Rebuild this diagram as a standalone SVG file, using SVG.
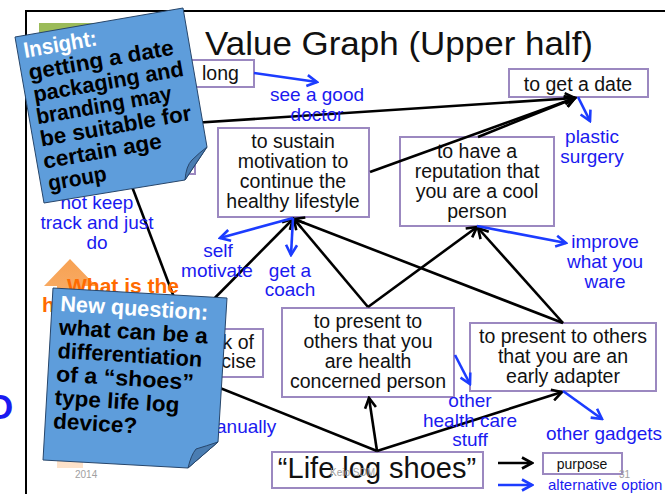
<svg xmlns="http://www.w3.org/2000/svg" width="665" height="494" viewBox="0 0 665 494">
  <defs>
    <style>
      .t { font-family: "Liberation Sans", Arial, sans-serif; }
      .box { fill: #ffffff; stroke: #9b88c0; stroke-width: 2; }
      .bt { font-family: "Liberation Sans", Arial, sans-serif; font-size: 19.5px; fill: #111; text-anchor: middle; }
      .blue { font-family: "Liberation Sans", Arial, sans-serif; font-size: 19px; fill: #1a1af0; text-anchor: middle; }
      .edge { stroke: #000; stroke-width: 2.6; fill: none; marker-end: url(#arrK); }
      .alt { stroke: #1c3cff; stroke-width: 2.6; fill: none; marker-end: url(#arrB); }
      .note { fill: #5e9ddb; stroke: #27466b; stroke-width: 1; }
      .flap { fill: #4a7db2; stroke: #27466b; stroke-width: 1; }
      .nt { font-family: "Liberation Sans", Arial, sans-serif; font-size: 22px; font-weight: bold; fill: #000; }
      .nh { fill: #ffffff; }
      .foot { font-family: "Liberation Sans", Arial, sans-serif; font-size: 10px; fill: #a0a0a0; }
    </style>
    <marker id="arrK" viewBox="0 0 14 14" refX="12" refY="7" markerWidth="14" markerHeight="14" markerUnits="userSpaceOnUse" orient="auto">
      <path d="M2,1.5 L12,7 L2,12.5" fill="none" stroke="#000" stroke-width="2.6"/>
    </marker>
    <marker id="arrB" viewBox="0 0 14 14" refX="12" refY="7" markerWidth="14" markerHeight="14" markerUnits="userSpaceOnUse" orient="auto">
      <path d="M2,1.5 L12,7 L2,12.5" fill="none" stroke="#1c3cff" stroke-width="2.6"/>
    </marker>
    <linearGradient id="orangeFade" x1="0" y1="0" x2="0" y2="1">
      <stop offset="0" stop-color="#f7a152"/>
      <stop offset="1" stop-color="#fde3cc"/>
    </linearGradient>
  </defs>

  <rect width="665" height="494" fill="#ffffff"/>

  <!-- slide frame -->
  <rect x="26" y="11" width="700" height="600" fill="#ffffff" stroke="#000" stroke-width="2"/>

  <!-- fragment of a large blue letter outside the frame -->
  <text class="t" x="-14" y="419" font-size="35" font-weight="bold" fill="#1a1af0">O</text>

  <!-- green header block -->
  <rect x="39" y="23" width="110" height="60" fill="#9bbb59"/>

  <text class="t" x="205" y="55" font-size="34" fill="#111" textLength="388" lengthAdjust="spacingAndGlyphs">Value Graph (Upper half)</text>

  <!-- nodes -->
  <g id="node-long">
    <rect class="box" x="150" y="60" width="104" height="27"/>
    <text class="t" x="202" y="80" font-size="19.5" fill="#111">long</text>
  </g>
  <g id="node-hidden">
    <rect class="box" x="110" y="130" width="85" height="44"/>
  </g>
  <g id="node-date">
    <rect class="box" x="509" y="69" width="139" height="28"/>
    <text class="bt" x="578" y="91">to get a date</text>
  </g>
  <g id="node-sustain">
    <rect class="box" x="218" y="128" width="151" height="89"/>
    <text class="bt" x="293" y="148">to sustain</text>
    <text class="bt" x="293" y="168">motivation to</text>
    <text class="bt" x="293" y="188">continue the</text>
    <text class="bt" x="293" y="208">healthy lifestyle</text>
  </g>
  <g id="node-reputation">
    <rect class="box" x="400" y="137" width="154" height="89"/>
    <text class="bt" x="477" y="158">to have a</text>
    <text class="bt" x="477" y="178">reputation that</text>
    <text class="bt" x="477" y="198">you are a cool</text>
    <text class="bt" x="477" y="218">person</text>
  </g>
  <g id="node-health">
    <rect class="box" x="282" y="308" width="172" height="89"/>
    <text class="bt" x="368" y="328">to present to</text>
    <text class="bt" x="368" y="348">others that you</text>
    <text class="bt" x="368" y="368">are health</text>
    <text class="bt" x="368" y="388">concerned person</text>
  </g>
  <g id="node-adapter">
    <rect class="box" x="470" y="323" width="186" height="68"/>
    <text class="bt" x="563" y="343">to present to others</text>
    <text class="bt" x="563" y="363">that you are an</text>
    <text class="bt" x="563" y="383">early adapter</text>
  </g>
  <g id="node-exercise">
    <rect class="box" x="180" y="329" width="83" height="48"/>
    <text class="t" x="254" y="349" font-size="19.5" fill="#111" text-anchor="end">k of</text>
    <text class="t" x="256" y="368" font-size="19.5" fill="#111" text-anchor="end">rcise</text>
  </g>
  <g id="node-shoes">
    <rect class="box" x="272" y="452" width="211" height="36"/>
    <text class="t" x="377" y="478" font-size="29" fill="#111" text-anchor="middle">“Life log shoes”</text>
  </g>

  <!-- connectors -->
  <g id="connectors">
    <line class="edge" x1="185" y1="123.5" x2="575" y2="98"/>
    <line class="edge" x1="370" y1="172" x2="575" y2="98"/>
    <line class="edge" x1="478" y1="137" x2="575" y2="98" stroke-width="3.6"/>
    <line class="edge" x1="368" y1="307" x2="294" y2="219"/>
    <line class="edge" x1="368" y1="307" x2="477" y2="227"/>
    <line class="edge" x1="563" y1="323" x2="294" y2="219"/>
    <line class="edge" x1="563" y1="323" x2="478" y2="228"/>
    <line class="edge" x1="190" y1="323" x2="293" y2="219"/>
    <line class="edge" x1="186" y1="329" x2="128" y2="176"/>
    <line class="edge" x1="377" y1="451" x2="369" y2="398"/>
    <line class="edge" x1="377" y1="451" x2="562" y2="392"/>
    <line class="edge" x1="377" y1="451" x2="205" y2="382"/>

    <line class="alt" x1="254" y1="73" x2="317" y2="82"/>
    <line class="alt" x1="578" y1="97" x2="590" y2="121"/>
    <line class="alt" x1="293" y1="218" x2="220" y2="238"/>
    <line class="alt" x1="293" y1="218" x2="291" y2="255"/>
    <line class="alt" x1="477" y1="226" x2="566" y2="243"/>
    <line class="alt" x1="455" y1="355" x2="470" y2="384"/>
    <line class="alt" x1="563" y1="391" x2="602" y2="419"/>

    <!-- legend arrows -->
    <line class="edge" x1="498" y1="463" x2="532" y2="463"/>
    <line class="alt" x1="498" y1="485" x2="532" y2="485"/>
  </g>

  <!-- alternative options -->
  <text class="blue" x="317" y="101">see a good</text>
  <text class="blue" x="317" y="121">doctor</text>
  <text class="blue" x="592" y="143">plastic</text>
  <text class="blue" x="592" y="163">surgery</text>
  <text class="blue" x="97" y="209">not keep</text>
  <text class="blue" x="97" y="229">track and just</text>
  <text class="blue" x="97" y="249">do</text>
  <text class="blue" x="218" y="257">self</text>
  <text class="blue" x="217" y="277">motivate</text>
  <text class="blue" x="290" y="277">get a</text>
  <text class="blue" x="290" y="296">coach</text>
  <text class="blue" x="605" y="248">improve</text>
  <text class="blue" x="605" y="268">what you</text>
  <text class="blue" x="605" y="288">ware</text>
  <text class="blue" x="470" y="407">other</text>
  <text class="blue" x="470" y="427">health care</text>
  <text class="blue" x="470" y="446">stuff</text>
  <text class="blue" x="604" y="440">other gadgets</text>
  <text class="blue" x="216" y="433" style="text-anchor:start">anually</text>

  <!-- legend -->
  <g id="legend">
    <rect class="box" x="543" y="453" width="79" height="21"/>
    <text class="t" x="582" y="469" font-size="14" fill="#111" text-anchor="middle">purpose</text>
    <text class="t" x="548" y="490" font-size="15" fill="#1a1af0">alternative option</text>
  </g>

  <!-- footer -->
  <text class="foot" x="75" y="478">2014</text>
  <text class="foot" x="330" y="476">Keio SDM</text>
  <text class="foot" x="619" y="478">31</text>

  <!-- orange up arrow with question -->
  <path d="M70,259 L96,286 L83,286 L83,468 L57,468 L57,286 L44,286 Z" fill="url(#orangeFade)"/>
  <text class="t" x="67" y="293" font-size="21" font-weight="bold" fill="#ff6a00">What is the</text>
  <text class="t" x="42" y="312" font-size="21" font-weight="bold" fill="#ff6a00">h</text>

  <!-- sticky note: insight -->
  <g id="note-insight">
    <path class="note" d="M15,37 L183,8 L207,147 L185,180 L44,203 Z"/>
    <path class="flap" d="M207,147 L185,180 Q186,166 192,160 Q199,153 207,147 Z"/>
    <g transform="translate(25,58) rotate(-10)">
      <text class="nt nh" x="0" y="0" textLength="74" lengthAdjust="spacingAndGlyphs">Insight:</text>
      <text class="nt" x="1" y="22.5" textLength="147" lengthAdjust="spacingAndGlyphs">getting a date</text>
      <text class="nt" x="2" y="45" textLength="152" lengthAdjust="spacingAndGlyphs">packaging and</text>
      <text class="nt" x="1" y="67.5" textLength="137" lengthAdjust="spacingAndGlyphs">branding may</text>
      <text class="nt" x="1" y="90" textLength="153" lengthAdjust="spacingAndGlyphs">be suitable for</text>
      <text class="nt" x="0" y="112.5" textLength="120" lengthAdjust="spacingAndGlyphs">certain age</text>
      <text class="nt" x="1" y="135" textLength="59" lengthAdjust="spacingAndGlyphs">group</text>
    </g>
  </g>

  <!-- sticky note: new question -->
  <g id="note-question">
    <path class="note" d="M53,288 L227,298 L218,442 L188,468 L43,460 Z"/>
    <path class="flap" d="M218,442 L188,468 Q191,455 196,449 Q206,446 218,442 Z"/>
    <g transform="translate(60,311) rotate(3.5)">
      <text class="nt nh" x="0" y="0" textLength="148" lengthAdjust="spacingAndGlyphs">New question:</text>
      <text class="nt" x="0" y="23.5" textLength="149" lengthAdjust="spacingAndGlyphs">what can be a</text>
      <text class="nt" x="0" y="47" textLength="145" lengthAdjust="spacingAndGlyphs">differentiation</text>
      <text class="nt" x="0" y="70.5" textLength="138" lengthAdjust="spacingAndGlyphs">of a “shoes”</text>
      <text class="nt" x="0" y="94" textLength="125" lengthAdjust="spacingAndGlyphs">type life log</text>
      <text class="nt" x="0" y="117.5" textLength="84" lengthAdjust="spacingAndGlyphs">device?</text>
    </g>
  </g>
</svg>
